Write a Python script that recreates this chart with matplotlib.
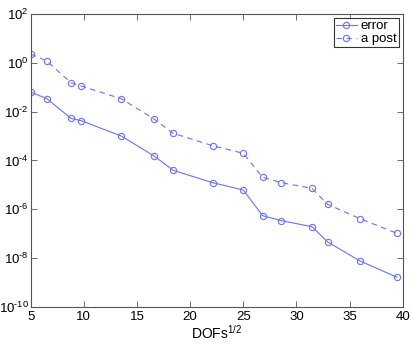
import numpy as np
import matplotlib
matplotlib.use("Agg")
import matplotlib.pyplot as plt

plt.rcParams['font.family'] = ['Liberation Sans', 'DejaVu Sans']
plt.rcParams['mathtext.fontset'] = 'custom'
plt.rcParams['mathtext.rm'] = 'Liberation Sans'

# sqrt of DOFs
dofs_sqrt = [5.0, 6.53, 8.79, 9.76, 13.52, 16.57, 18.41, 22.12, 25.0,
             26.82, 28.57, 31.46, 32.94, 35.98, 39.46]
# log10 of values
log_error = [-1.197, -1.471, -2.275, -2.373, -3.0, -3.807, -4.406, -4.914,
             -5.213, -6.266, -6.471, -6.717, -7.344, -8.123, -8.79]
log_apost = [0.361, 0.074, -0.816, -0.951, -1.471, -2.291, -2.889, -3.397,
             -3.709, -4.693, -4.914, -5.145, -5.8, -6.389, -6.99]

error = 10.0 ** np.array(log_error)
apost = 10.0 ** np.array(log_apost)

col = '#6673ff'

fig = plt.figure(figsize=(4.13, 3.44), dpi=100)
ax = fig.add_axes([0.0743, 0.1084, 0.975 - 0.0743, 0.959 - 0.1084])

ax.semilogy(dofs_sqrt, error, '-o', color=col, lw=0.8, ms=4.5,
            mfc='none', mew=0.8, label='error')
ax.semilogy(dofs_sqrt, apost, '--o', color=col, lw=0.8, ms=4.5,
            mfc='none', mew=0.8, dashes=(5, 4), label='a post')


def exp_fmt(v, pos):
    k = int(round(np.log10(v)))
    if k < 0:
        return r'$10^{\text{-}%d}$' % (-k)
    return r'$10^{%d}$' % k


ax.set_xlim(5, 40)
ax.set_ylim(1e-10, 1e2)
ax.set_xticks([5, 10, 15, 20, 25, 30, 35, 40])
ax.set_yticks([10.0 ** k for k in range(-10, 3, 2)])
ax.yaxis.set_major_formatter(matplotlib.ticker.FuncFormatter(exp_fmt))
ax.yaxis.set_minor_locator(matplotlib.ticker.NullLocator())
ax.tick_params(direction='in', top=True, right=True, length=4,
               width=0.6, color='#555555', labelsize=9.5, pad=3)
ax.tick_params(axis='y', pad=1.5)
for s in ax.spines.values():
    s.set_color('#555555')
    s.set_linewidth(0.8)

ax.set_xlabel('DOFs$^{1/2}$', fontsize=10, labelpad=1)

leg = ax.legend(loc='upper right', fontsize=9.5, frameon=True, fancybox=False,
                edgecolor='black', borderpad=0.15, handlelength=1.6,
                handletextpad=0.3, labelspacing=0.05, borderaxespad=0.3)
leg.get_frame().set_linewidth(0.8)

fig.savefig('out.png', dpi=100)
